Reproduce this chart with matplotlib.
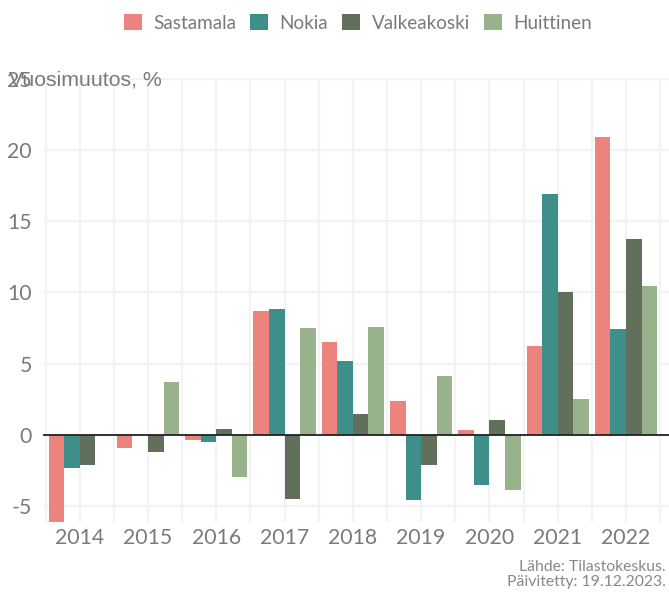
import numpy as np
import matplotlib
matplotlib.use("Agg")
import matplotlib.pyplot as plt
from matplotlib.ticker import MultipleLocator

years = ["2014", "2015", "2016", "2017", "2018", "2019", "2020", "2021", "2022"]
sastamala = [-6.3, -0.93, -0.39, 8.66, 6.54, 2.34, 0.3, 6.26, 20.92]
nokia = [-2.34, 0.0, -0.53, 8.8, 5.15, -4.57, -3.52, 16.92, 7.4]
valkeakoski = [-2.15, -1.21, 0.39, -4.52, 1.49, -2.15, 1.02, 10.05, 13.78]
huittinen = [0.0, 3.72, -2.97, 7.52, 7.6, 4.16, -3.87, 2.48, 10.48]

series = [
    ("Sastamala", sastamala, "#ec837d"),
    ("Nokia", nokia, "#3e8e89"),
    ("Valkeakoski", valkeakoski, "#61705a"),
    ("Huittinen", huittinen, "#98b28c"),
]

plt.rcParams["axes.unicode_minus"] = False
text_grey = "#7a7a7a"

fig = plt.figure(figsize=(6.69, 5.92), dpi=100)
ax = fig.add_axes([0.064, 0.119, 0.936, 0.749])

x = np.arange(len(years))
w = 0.228
for i, (name, vals, col) in enumerate(series):
    ax.bar(x + (i - 1.5) * w, vals, width=w, color=col, label=name, zorder=3)

ax.axhline(0, color="#222222", lw=1.3, zorder=4)

ax.set_xlim(-0.54, 8.63)
ax.set_ylim(-6.1, 25.05)
ax.set_xticks(x)
ax.set_xticklabels(years)
ax.xaxis.set_minor_locator(MultipleLocator(0.5))
ax.yaxis.set_major_locator(MultipleLocator(5))
ax.grid(True, which="major", color="#f3f3f3", lw=1.6, zorder=0)
ax.grid(True, which="minor", axis="x", color="#f3f3f3", lw=1.6, zorder=0)
for s in ax.spines.values():
    s.set_visible(False)
ax.tick_params(which="both", length=0)
ax.tick_params(axis="x", labelsize=15.3, labelcolor=text_grey, pad=5)
ax.tick_params(axis="y", labelsize=15.3, labelcolor=text_grey, pad=8)
for lab in ax.get_xticklabels() + ax.get_yticklabels():
    lab.set_family("Lato")

fig.text(0.013, 0.865, "Vuosimuutos, %", fontsize=15.3, color=text_grey,
         family="Liberation Sans", ha="left", va="center")

leg = fig.legend(loc="upper center", bbox_to_anchor=(0.535, 1.005), ncol=4, frameon=False,
                 prop={"family": "Lato", "size": 13.6}, handlelength=0.95,
                 handleheight=0.95, handletextpad=0.6, columnspacing=0.75)
for t in leg.get_texts():
    t.set_color(text_grey)

fig.text(0.995, 0.030, "Lähde: Tilastokeskus.\nPäivitetty: 19.12.2023.", fontsize=11.3,
         color="#888888", family="Lato", ha="right", va="center", linespacing=1.05)

fig.savefig("out.png", dpi=100)
